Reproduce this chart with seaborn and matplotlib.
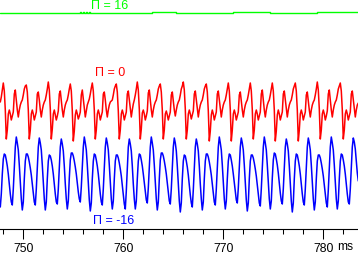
import numpy as np
import pandas as pd
import matplotlib
matplotlib.use("Agg")
import matplotlib.pyplot as plt
from matplotlib.ticker import MultipleLocator, FixedLocator
import seaborn as sns

# ---- data (time in ms, one sample per 0.1 ms starting at T0) ----
T0 = 747.7
DT = 0.1

red_v = [
    127, 132, 139,
    146, 138, 119, 90, 99, 115, 119, 115, 109, 113, 117, 135, 139, 129, 119, 112, 119, 124, 127, 129, 134, 140, 143,
    144, 137, 119, 90, 99, 115, 119, 115, 109, 113, 117, 135, 137, 129, 119, 112, 119, 124, 127, 129, 134, 140,
    147, 139, 120, 90, 100, 115, 119, 114, 109, 113, 118, 135, 138, 128, 119, 112, 119, 124, 127, 129, 134, 140,
    145, 138, 118, 88, 98, 114, 119, 115, 110, 113, 117, 134, 139, 130, 120, 112, 118, 124, 127, 130, 135, 141,
    146, 138, 119, 90, 99, 115, 119, 115, 109, 113, 117, 135, 137, 129, 119, 112, 119, 124, 127, 128, 129, 134, 140, 143,
    145, 137, 118, 90, 99, 115, 119, 115, 109, 113, 117, 135, 138, 129, 119, 112, 119, 125, 129, 134, 140,
    147, 139, 120, 90, 100, 116, 119, 115, 109, 113, 118, 136, 139, 129, 119, 112, 119, 124, 127, 129, 134, 140, 143,
    145, 137, 119, 90, 99, 115, 118, 114, 109, 113, 117, 134, 137, 128, 119, 113, 119, 124, 127, 129, 134, 140, 143,
    147, 139, 120, 90, 99, 115, 119, 115, 110, 114, 118, 135, 138, 129, 119, 112, 119, 124, 127, 129, 134, 140, 143,
    145, 137, 118, 88, 98, 114, 119, 115, 109, 113, 117, 135, 138, 129, 119, 112, 119, 124, 127, 129, 134, 140,
    146, 138, 119, 88, 99, 115, 119, 115, 109, 113, 117, 134, 137, 128, 119, 112, 119, 124, 127, 129, 134, 140,
    146, 138, 119, 90, 99, 115, 119, 115, 109, 113, 117, 135, 139, 129, 119, 112, 119, 124, 127, 129, 134, 140,
    146, 138, 119, 88, 98, 114, 119, 115, 109, 113, 117, 135, 138, 129, 119, 112, 119, 124, 127, 129, 134, 140, 143,
    146, 138, 119, 88, 99, 115, 119, 115, 109, 113, 117, 134, 137, 128, 119, 112, 119, 124, 127, 129, 134, 140,
    147, 139, 120, 90, 99, 115, 119, 115, 109, 113, 118, 135, 139, 129, 119, 112, 119, 124, 127, 129, 134, 140, 143,
    146, 138, 119, 90, 99, 115, 119, 115, 109, 113, 117, 135, 138, 129, 119, 112, 119, 124, 126,
]

blue_v = [
    22, 35, 55, 70, 75, 74, 69, 63, 55, 45, 35, 27, 24, 40, 62, 82,
    92, 86, 79, 64, 46, 30, 19, 27, 50, 68, 75, 75, 72, 67, 61, 54, 45, 35, 27, 24, 40, 62, 82,
    91, 86, 79, 64, 46, 30, 19, 27, 50, 68, 74, 73, 69, 63, 55, 45, 35, 27, 25, 40, 62, 82,
    90, 85, 78, 63, 45, 30, 20, 28, 51, 69, 76, 76, 73, 68, 62, 55, 46, 37, 30, 27, 42, 63, 82,
    92, 86, 79, 64, 46, 29, 18, 26, 50, 68, 75, 74, 69, 63, 55, 45, 35, 27, 24, 40, 62, 82,
    91, 86, 79, 64, 46, 30, 20, 28, 50, 68, 74, 74, 71, 66, 60, 53, 44, 34, 25, 20, 38, 61, 82,
    90, 85, 78, 63, 45, 30, 20, 28, 50, 68, 75, 74, 69, 63, 55, 46, 36, 29, 26, 41, 62, 82,
    92, 86, 79, 64, 46, 30, 19, 27, 50, 69, 76, 76, 73, 68, 62, 55, 46, 36, 28, 25, 40, 62, 82,
    91, 86, 78, 63, 45, 28, 17, 26, 50, 68, 74, 73, 68, 62, 54, 44, 34, 26, 22, 39, 61, 82,
    90, 85, 78, 63, 45, 30, 19, 27, 50, 68, 75, 75, 72, 67, 61, 54, 45, 35, 27, 24, 40, 62, 82,
    92, 86, 79, 64, 46, 30, 20, 28, 50, 68, 75, 74, 69, 63, 55, 46, 36, 29, 26, 41, 62, 82,
    91, 86, 79, 64, 46, 29, 18, 26, 50, 68, 74, 74, 71, 66, 60, 53, 44, 34, 26, 23, 40, 62, 82,
    92, 86, 79, 64, 46, 30, 20, 28, 51, 69, 76, 75, 70, 64, 56, 46, 36, 28, 25, 40, 62, 82,
    90, 85, 78, 63, 45, 28, 17, 26, 50, 68, 75, 74, 69, 63, 55, 45, 35, 27, 24, 40, 62, 82,
    91, 86, 79, 64, 46, 30, 19, 27, 50, 68, 74, 74, 71, 66, 60, 53, 44, 34, 26, 22, 39, 61, 82,
    92, 86, 79, 64, 46, 30, 20, 28, 50, 68, 75, 74, 69, 63, 55, 45, 35, 27, 25, 40, 62, 82,
    91, 87, 80, 68, 56, 48,
]

green_t = [747.7, 755.7, 755.8, 756.0, 756.1, 756.3, 756.4, 756.6, 756.7, 756.9,
           762.9, 765.3, 771.0, 774.7, 779.4, 783.5]
green_v = [216, 217, 216, 217, 216, 217, 216, 217, 216, 216,
           217, 216, 217, 216, 217, 217]

series_labels = ["Π = 16", "Π = 0", "Π = -16"]
major_ticks = [750, 760, 770, 780]
unit_label = "ms"

# ---- build tables ----
red_df = pd.DataFrame({"t": T0 + DT * np.arange(len(red_v)), "v": red_v})
blue_df = pd.DataFrame({"t": T0 + DT * np.arange(len(blue_v)), "v": blue_v})
green_df = pd.DataFrame({"t": green_t, "v": green_v})

sns.set_theme(style="white")
plt.rcParams["font.family"] = ["Liberation Sans", "DejaVu Sans"]

fig = plt.figure(figsize=(3.58, 2.55), dpi=100)
ax = fig.add_axes([0, 25 / 255, 1, 230 / 255])

GREEN = "#00ff00"
RED = "#ff0000"
BLUE = "#0000ff"

sns.lineplot(data=green_df, x="t", y="v", color=GREEN, linewidth=1.0, ax=ax,
             estimator=None, sort=False, drawstyle="steps-post")
sns.lineplot(data=red_df, x="t", y="v", color=RED, linewidth=1.1, ax=ax,
             estimator=None, sort=False)
sns.lineplot(data=blue_df, x="t", y="v", color=BLUE, linewidth=1.1, ax=ax,
             estimator=None, sort=False)

ax.set_xlim(747.67, 783.47)
ax.set_ylim(0, 230)

ax.text(758.6, 224, series_labels[0], color=GREEN, fontsize=9, ha="center", va="center")
ax.text(758.7, 157, series_labels[1], color=RED, fontsize=9, ha="center", va="center")
ax.text(759.0, 9, series_labels[2], color=BLUE, fontsize=9, ha="center", va="center")

for s in ["top", "left", "right"]:
    ax.spines[s].set_visible(False)
ax.spines["bottom"].set_color("black")
ax.spines["bottom"].set_linewidth(0.8)

ax.xaxis.set_major_locator(FixedLocator(major_ticks))
ax.xaxis.set_minor_locator(MultipleLocator(2))
ax.tick_params(axis="x", which="major", direction="out", length=7.2, width=0.75,
               color="black", labelsize=8.7, labelcolor="black", pad=2.0, bottom=True)
ax.tick_params(axis="x", which="minor", direction="out", length=3.6, width=0.75,
               color="black", bottom=True)
ax.set_yticks([])
ax.set_xlabel("")
ax.set_ylabel("")
ax.patch.set_alpha(0)

fig.text(345 / 358, 1 - 247 / 255, unit_label, fontsize=8.7, ha="center", va="center",
         color="black")

fig.savefig("out.png", dpi=100)
